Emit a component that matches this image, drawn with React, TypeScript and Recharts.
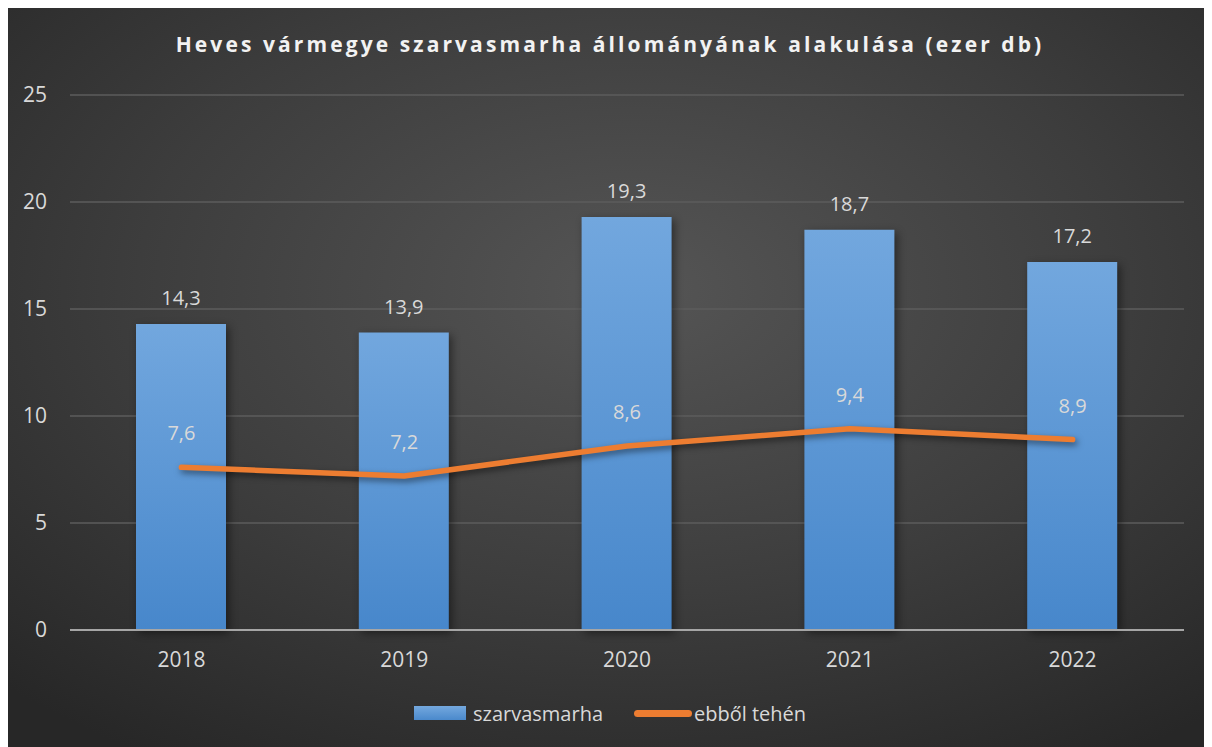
import React from 'react';
import { ComposedChart, Bar, Line, XAxis, YAxis, CartesianGrid, LabelList, Legend } from 'recharts';

const years = ['2018', '2019', '2020', '2021', '2022'];
const cattle = [14.3, 13.9, 19.3, 18.7, 17.2];
const cows = [7.6, 7.2, 8.6, 9.4, 8.9];
const yTicks = [0, 5, 10, 15, 20, 25];
const title = 'Heves vármegye szarvasmarha állományának alakulása (ezer db)';
const seriesNames = ['szarvasmarha', 'ebből tehén'];

const data = years.map((y, i) => ({ year: y, cattle: cattle[i], cows: cows[i] }));
const fmt = (v: any) => Number(v).toFixed(1).replace('.', ',');

const FONT = '"Open Sans", sans-serif';
const TXT = '#d9d9d9';

const LegendContent = () => (
  <div style={{ display: 'flex', alignItems: 'center', height: 30, marginLeft: 406, fontFamily: FONT, fontSize: 20, color: TXT }}>
    <span style={{ display: 'inline-block', width: 52, height: 14, background: 'linear-gradient(#74a8de, #4a89cc)', marginRight: 7 }} />
    <span style={{ marginRight: 31 }}>{seriesNames[0]}</span>
    <span style={{ display: 'inline-block', width: 58, height: 7, borderRadius: 4, background: '#ed7d31', marginRight: 2 }} />
    <span>{seriesNames[1]}</span>
  </div>
);

export default function App() {
  return (
    <div
      style={{
        position: 'relative',
        width: 1204,
        height: 739,
        background: 'radial-gradient(ellipse 75% 75% at 52% 38%, #555555 0%, #3d3d3d 55%, #272727 100%)',
        fontFamily: FONT,
      }}
    >
      <style>{`
        .recharts-bar-rectangle { filter: drop-shadow(3px 3px 4px rgba(0,0,0,0.45)); }
        .recharts-line-curve { filter: drop-shadow(2px 3px 3px rgba(0,0,0,0.5)); }
      `}</style>
      <div
        style={{
          position: 'absolute',
          top: 22,
          left: 0,
          width: 1204,
          textAlign: 'center',
          fontWeight: 700,
          fontSize: 21,
          letterSpacing: 3.1,
          color: '#f2f2f2',
        }}
      >
        {title}
      </div>
      <ComposedChart width={1204} height={739} data={data} margin={{ top: 87, right: 28, left: 0, bottom: 19 }}>
        <defs>
          <linearGradient id="barGrad" x1="0" y1="0" x2="0" y2="1">
            <stop offset="0%" stopColor="#72a7de" />
            <stop offset="100%" stopColor="#4787cb" />
          </linearGradient>
        </defs>
        <CartesianGrid vertical={false} stroke="#5c5c5c" strokeWidth={1.5} />
        <XAxis
          dataKey="year"
          height={68}
          axisLine={{ stroke: '#a6a6a6', strokeWidth: 2 }}
          tickLine={false}
          tickMargin={16}
          tick={{ fill: TXT, fontSize: 21, fontFamily: FONT }}
        />
        <YAxis
          domain={[0, 25]}
          ticks={yTicks}
          width={62}
          axisLine={false}
          tickLine={false}
          tickMargin={17}
          tick={{ fill: TXT, fontSize: 21, fontFamily: FONT }}
        />
        <Legend verticalAlign="bottom" align="left" content={<LegendContent />} wrapperStyle={{ left: 0, width: 1204, height: 30 }} />
        <Bar dataKey="cattle" name={seriesNames[0]} fill="url(#barGrad)" barSize={90} isAnimationActive={false}>
          <LabelList dataKey="cattle" position="top" offset={19} formatter={fmt} fill={TXT} fontSize={20} fontFamily={FONT} />
        </Bar>
        <Line
          dataKey="cows"
          name={seriesNames[1]}
          type="linear"
          stroke="#ed7d31"
          strokeWidth={5.5}
          strokeLinecap="round"
          strokeLinejoin="round"
          dot={false}
          activeDot={false}
          isAnimationActive={false}
        >
          <LabelList dataKey="cows" position="top" offset={27} formatter={fmt} fill={TXT} fontSize={20} fontFamily={FONT} />
        </Line>
      </ComposedChart>
    </div>
  );
}
